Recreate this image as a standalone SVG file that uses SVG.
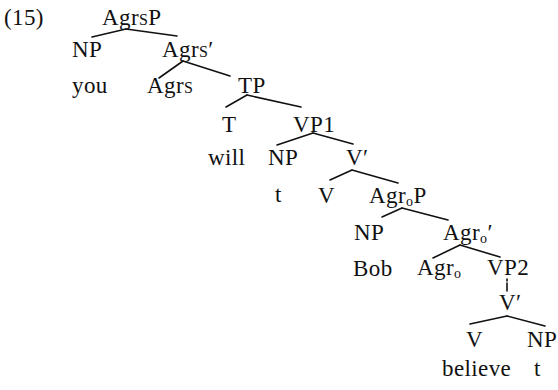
<svg xmlns="http://www.w3.org/2000/svg" width="558" height="390" viewBox="0 0 558 390">
  <style>
    text { font-family: "Liberation Serif", "Times New Roman", serif; font-size: 23px; fill: #111; letter-spacing: 0.4px; }
    .sc { font-size: 16px; }
    .sub { font-size: 14px; }
    .edge { stroke: #111; stroke-width: 1.6; stroke-linecap: round; fill: none; }
    .dots { stroke-dasharray: 2 2 8; }
  </style>
  <rect width="558" height="390" fill="#fff"/>

  <text id="label" x="4" y="25">(15)</text>

  <g id="connectors">
    <line class="edge" x1="126" y1="29" x2="92" y2="37"/>
    <line class="edge" x1="126" y1="29" x2="177" y2="36"/>
    <line class="edge" x1="183" y1="61" x2="159" y2="78"/>
    <line class="edge" x1="183" y1="61" x2="230" y2="76"/>
    <line class="edge" x1="247" y1="95" x2="226" y2="107"/>
    <line class="edge" x1="247" y1="95" x2="301" y2="107"/>
    <line class="edge" x1="313" y1="133" x2="277" y2="145"/>
    <line class="edge" x1="313" y1="133" x2="353" y2="144"/>
    <line class="edge" x1="352" y1="170" x2="330" y2="180"/>
    <line class="edge" x1="352" y1="170" x2="398" y2="183"/>
    <line class="edge" x1="402" y1="208" x2="382" y2="217"/>
    <line class="edge" x1="402" y1="208" x2="448" y2="220"/>
    <line class="edge" x1="460" y1="245" x2="433" y2="258"/>
    <line class="edge" x1="460" y1="245" x2="500" y2="257"/>
    <line class="edge dots" x1="507" y1="279" x2="507" y2="291"/>
    <line class="edge" x1="507" y1="316" x2="470" y2="324"/>
    <line class="edge" x1="507" y1="316" x2="545" y2="326"/>
  </g>

  <g id="agrsp"><text x="102" y="25">Agr<tspan class="sc">S</tspan>P</text></g>
  <g id="np-subject"><text x="72" y="57">NP</text></g>
  <g id="agrs-bar"><text x="162" y="57">Agr<tspan class="sc">S</tspan>′</text></g>
  <g id="you"><text x="72" y="93">you</text></g>
  <g id="agrs"><text x="147" y="93">Agr<tspan class="sc">S</tspan></text></g>
  <g id="tp"><text x="238" y="93">TP</text></g>
  <g id="t-head"><text x="222" y="132">T</text></g>
  <g id="vp1"><text x="293" y="132">VP1</text></g>
  <g id="will"><text x="208" y="165">will</text></g>
  <g id="np-vp1"><text x="268" y="165">NP</text></g>
  <g id="v-bar1"><text x="346" y="165">V′</text></g>
  <g id="trace1"><text x="275" y="202">t</text></g>
  <g id="v1"><text x="318" y="203">V</text></g>
  <g id="agrop"><text x="369" y="203">Agr<tspan class="sub" dy="3">o</tspan><tspan dy="-3">P</tspan></text></g>
  <g id="np-object"><text x="354" y="240">NP</text></g>
  <g id="agro-bar"><text x="443" y="240">Agr<tspan class="sub" dy="3">o</tspan><tspan dy="-3">′</tspan></text></g>
  <g id="bob"><text x="353" y="276">Bob</text></g>
  <g id="agro"><text x="417" y="275">Agr<tspan class="sub" dy="3">o</tspan></text></g>
  <g id="vp2"><text x="487" y="275">VP2</text></g>
  <g id="v-bar2"><text x="499" y="310">V′</text></g>
  <g id="v2"><text x="466" y="347">V</text></g>
  <g id="np-vp2"><text x="527" y="347">NP</text></g>
  <g id="believe"><text x="442" y="376">believe</text></g>
  <g id="trace2"><text x="534" y="376">t</text></g>
</svg>
